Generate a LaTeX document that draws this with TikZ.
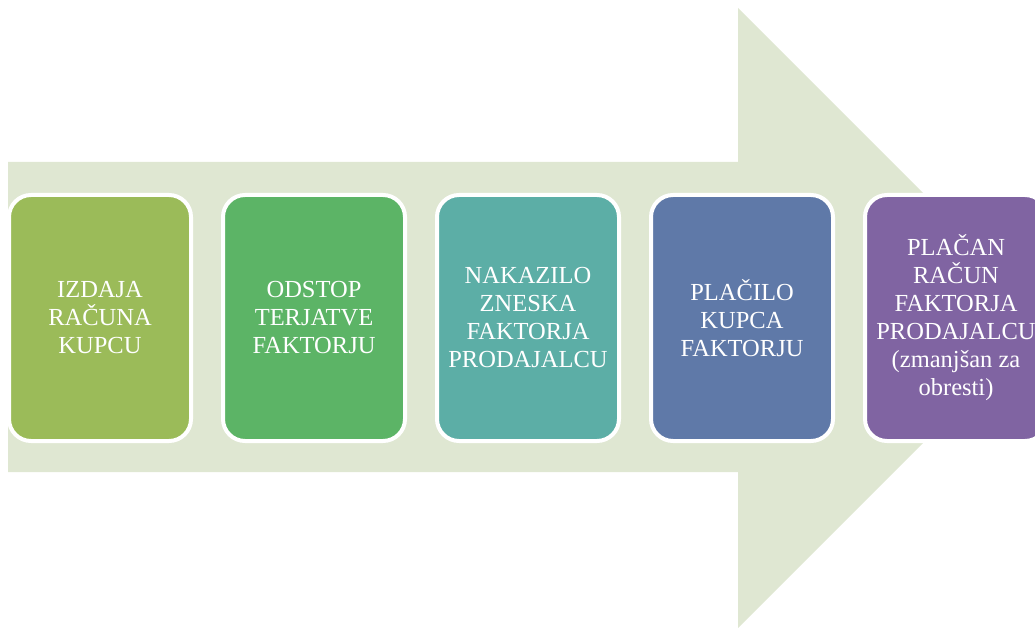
\documentclass[tikz,border=0pt]{standalone}
\usepackage{fontspec}
\setmainfont{Liberation Serif}
\usetikzlibrary{positioning}

\definecolor{arrowbg}{RGB}{223,231,210}
\definecolor{stepA}{RGB}{155,187,89}
\definecolor{stepB}{RGB}{92,180,102}
\definecolor{stepC}{RGB}{92,174,166}
\definecolor{stepD}{RGB}{95,121,168}
\definecolor{stepE}{RGB}{128,100,162}

\tikzset{
  stepbox/.style={rectangle, rounded corners=22pt, draw=white, line width=4pt,
    minimum width=182pt, minimum height=246pt, inner sep=0pt, outer sep=0pt,
    align=center, text=white, font=\fontsize{24.5}{28}\selectfont},
}

\begin{document}
\begin{tikzpicture}[x=1pt, y=-1pt, node distance=32pt]

\clip (0,0) rectangle (1035,628);

% Background arrow
\fill[arrowbg] (8,162) -- (738,162) -- (738,8) -- (1048,318)
  -- (738,628) -- (738,472) -- (8,472) -- cycle;

% Steps
\node[stepbox, fill=stepA] (S1) at (100,318) {IZDAJA\\RAČUNA\\KUPCU};
\node[stepbox, fill=stepB, right=of S1] (S2) {ODSTOP\\TERJATVE\\FAKTORJU};
\node[stepbox, fill=stepC, right=of S2] (S3) {NAKAZILO\\ZNESKA\\FAKTORJA\\PRODAJALCU};
\node[stepbox, fill=stepD, right=of S3] (S4) {PLAČILO\\KUPCA\\FAKTORJU};
\node[stepbox, fill=stepE, right=of S4] (S5) {PLAČAN\\RAČUN\\FAKTORJA\\PRODAJALCU\\(zmanjšan za\\obresti)};

\end{tikzpicture}
\end{document}
